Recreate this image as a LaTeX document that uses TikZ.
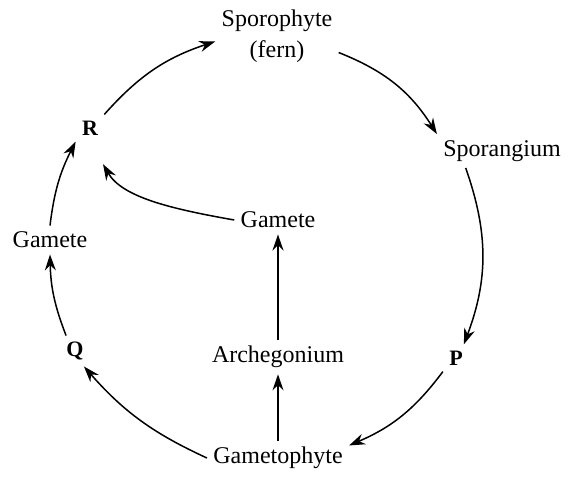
\documentclass[tikz,border=0pt]{standalone}
\usepackage{fontspec}
\setmainfont{Liberation Serif}
\usepackage{tikz}
\usetikzlibrary{arrows.meta}
\tikzset{
    stage/.style={inner sep=3pt, align=center, font=\fontsize{12}{15.5}\selectfont},
    letter/.style={inner sep=3pt, font=\fontsize{11}{13}\selectfont\bfseries},
    cycarrow/.style={-{Stealth[length=8pt,width=5.5pt]}, line width=0.75pt},
}

\begin{document}
\begin{tikzpicture}[x=0.5pt,y=-0.5pt]
        \useasboundingbox (0,0) rectangle (569,477);
        \node[stage]  (spo)  at (277,36)  {Sporophyte\\ (fern)};
        \node[stage]  (spg)  at (502,151) {Sporangium};
        \node[letter] (P)    at (456,358) {P};
        \node[stage]  (gph)  at (278,458) {Gametophyte};
        \node[letter] (Q)    at (75,351)  {Q};
        \node[stage]  (gam1) at (50,240)  {Gamete};
        \node[letter] (R)    at (90,128)  {R};
        \node[stage]  (gam2) at (278,220) {Gamete};
        \node[stage]  (arc)  at (278,357) {Archegonium};
        \draw[cycarrow] (R.north east) to[bend left=15] (spo.185);
        \draw[cycarrow] (spo.-15) to[bend left=18] (spg.north west);
        \draw[cycarrow] (spg.-155) to[bend left=20] (P.60);
        \draw[cycarrow] (P.south west) to[bend left=15] (gph.10);
        \draw[cycarrow] (gph.west) to[bend left=12] (Q.-60);
        \draw[cycarrow] (Q.120) to[bend left=10] (gam1.south);
        \draw[cycarrow] (gam1.north) to[bend left=10] (R.south west);
        \draw[cycarrow, shorten >=13pt] (gam2.west) to[out=170, in=-60] (R.south);
        \draw[cycarrow] (gph.north) -- (arc.south);
        \draw[cycarrow] (arc.north) -- (gam2.south);
    \end{tikzpicture}
\end{document}
